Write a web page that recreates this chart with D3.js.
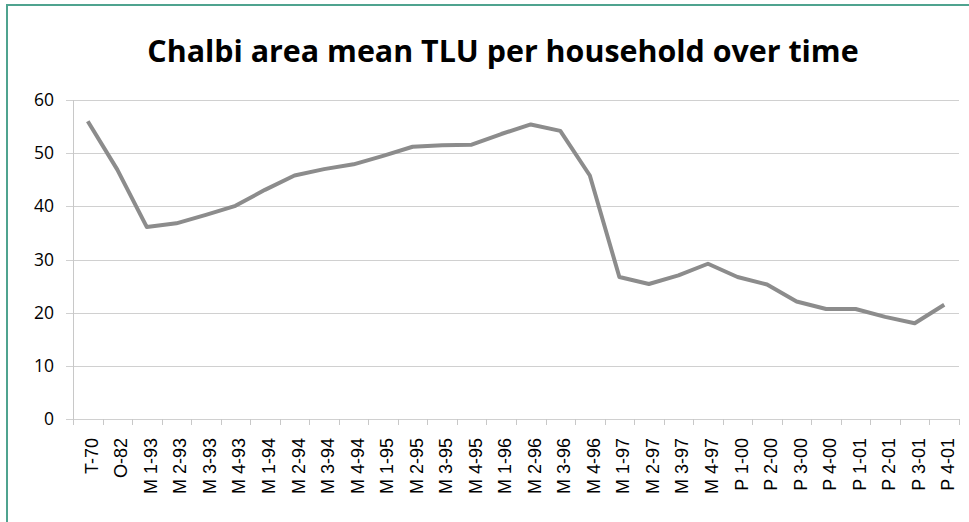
<!DOCTYPE html>
<html>
<head>
<meta charset="utf-8">
<script src="https://cdn.jsdelivr.net/npm/d3@7"></script>
<style>
  body { margin: 0; background: #fff; }
  svg { display: block; }
</style>
</head>
<body>
<div id="chart"></div>
<script>
// chart data
var categories = ['T-70', 'O-82', 'M 1-93', 'M 2-93', 'M 3-93', 'M 4-93', 'M 1-94', 'M 2-94', 'M 3-94', 'M 4-94',
  'M 1-95', 'M 2-95', 'M 3-95', 'M 4-95', 'M 1-96', 'M 2-96', 'M 3-96', 'M 4-96', 'M 1-97', 'M 2-97',
  'M 3-97', 'M 4-97', 'P 1-00', 'P 2-00', 'P 3-00', 'P 4-00', 'P 1-01', 'P 2-01', 'P 3-01', 'P 4-01']
var meanTLU = [56.0, 46.9, 36.1, 36.8, 38.4, 40.1, 43.1, 45.8, 47.0, 47.9,
  49.5, 51.2, 51.5, 51.6, 53.6, 55.4, 54.2, 45.8, 26.7, 25.4,
  27.0, 29.2, 26.7, 25.3, 22.1, 20.7, 20.7, 19.2, 18.0, 21.5]
var yTicks = [0, 10, 20, 30, 40, 50, 60]
var title = 'Chalbi area mean TLU per household over time'

var width = 969
var height = 522
var margin = { top: 100, right: 10, bottom: 103, left: 73 }

var svg = d3.select('#chart').append('svg')
  .attr('width', width)
  .attr('height', height)

// frame (only top and left edges show in the picture)
svg.append('rect')
  .attr('x', 7)
  .attr('y', 5)
  .attr('width', width + 20)
  .attr('height', height + 20)
  .attr('fill', 'none')
  .attr('stroke', '#4fa38f')
  .attr('stroke-width', 2)

svg.append('text')
  .attr('x', 503)
  .attr('y', 62)
  .attr('text-anchor', 'middle')
  .attr('font-family', 'Open Sans, Lato, sans-serif')
  .attr('font-weight', 'bold')
  .attr('font-size', 30.4)
  .attr('fill', '#000')
  .text(title)

var plotW = 959 - margin.left
var plotH = 419 - margin.top

var g = svg.append('g').attr('transform', 'translate(' + margin.left + ',' + margin.top + ')')

var x = d3.scaleBand().domain(categories).range([0, plotW])
var y = d3.scaleLinear().domain([0, 60]).range([plotH, 0])

// gridlines
g.selectAll('line.grid')
  .data(yTicks)
  .enter().append('line')
  .attr('class', 'grid')
  .attr('x1', -7)
  .attr('x2', plotW)
  .attr('y1', function (d) { return Math.round(y(d)) + 0.5 })
  .attr('y2', function (d) { return Math.round(y(d)) + 0.5 })
  .attr('stroke', '#d0d0d0')
  .attr('stroke-width', 1)

// y axis line
g.append('line')
  .attr('x1', 0.5).attr('x2', 0.5)
  .attr('y1', 0).attr('y2', plotH)
  .attr('stroke', '#c8c8c8')

// y labels
g.selectAll('text.ylab')
  .data(yTicks)
  .enter().append('text')
  .attr('class', 'ylab')
  .attr('x', -19)
  .attr('y', function (d) { return y(d) + 6 })
  .attr('text-anchor', 'end')
  .attr('font-family', 'Open Sans, sans-serif')
  .attr('font-size', 17.5)
  .attr('fill', '#000')
  .text(function (d) { return d })

// x tick marks between categories
var tickPos = categories.map(function (c) { return x(c) }).concat([plotW])
g.selectAll('line.xtick')
  .data(tickPos)
  .enter().append('line')
  .attr('class', 'xtick')
  .attr('x1', function (d) { return Math.round(d) + 0.5 })
  .attr('x2', function (d) { return Math.round(d) + 0.5 })
  .attr('y1', plotH)
  .attr('y2', plotH + 6)
  .attr('stroke', '#c8c8c8')

// x labels, rotated
g.selectAll('text.xlab')
  .data(categories)
  .enter().append('text')
  .attr('class', 'xlab')
  .attr('transform', function (d) {
    return 'translate(' + (x(d) + x.bandwidth() / 2 + 10) + ',' + (plotH + 19) + ') rotate(-90)'
  })
  .attr('text-anchor', 'end')
  .attr('font-family', 'Liberation Sans, Arial, sans-serif')
  .attr('font-size', 18)
  .attr('fill', '#000')
  .text(function (d) { return d })

// the line
var line = d3.line()
  .x(function (d, i) { return x(categories[i]) + x.bandwidth() / 2 })
  .y(function (d) { return y(d) })

g.append('path')
  .datum(meanTLU)
  .attr('d', line)
  .attr('fill', 'none')
  .attr('stroke', '#8c8c8c')
  .attr('stroke-width', 4)
  .attr('stroke-linejoin', 'round')
</script>
</body>
</html>
